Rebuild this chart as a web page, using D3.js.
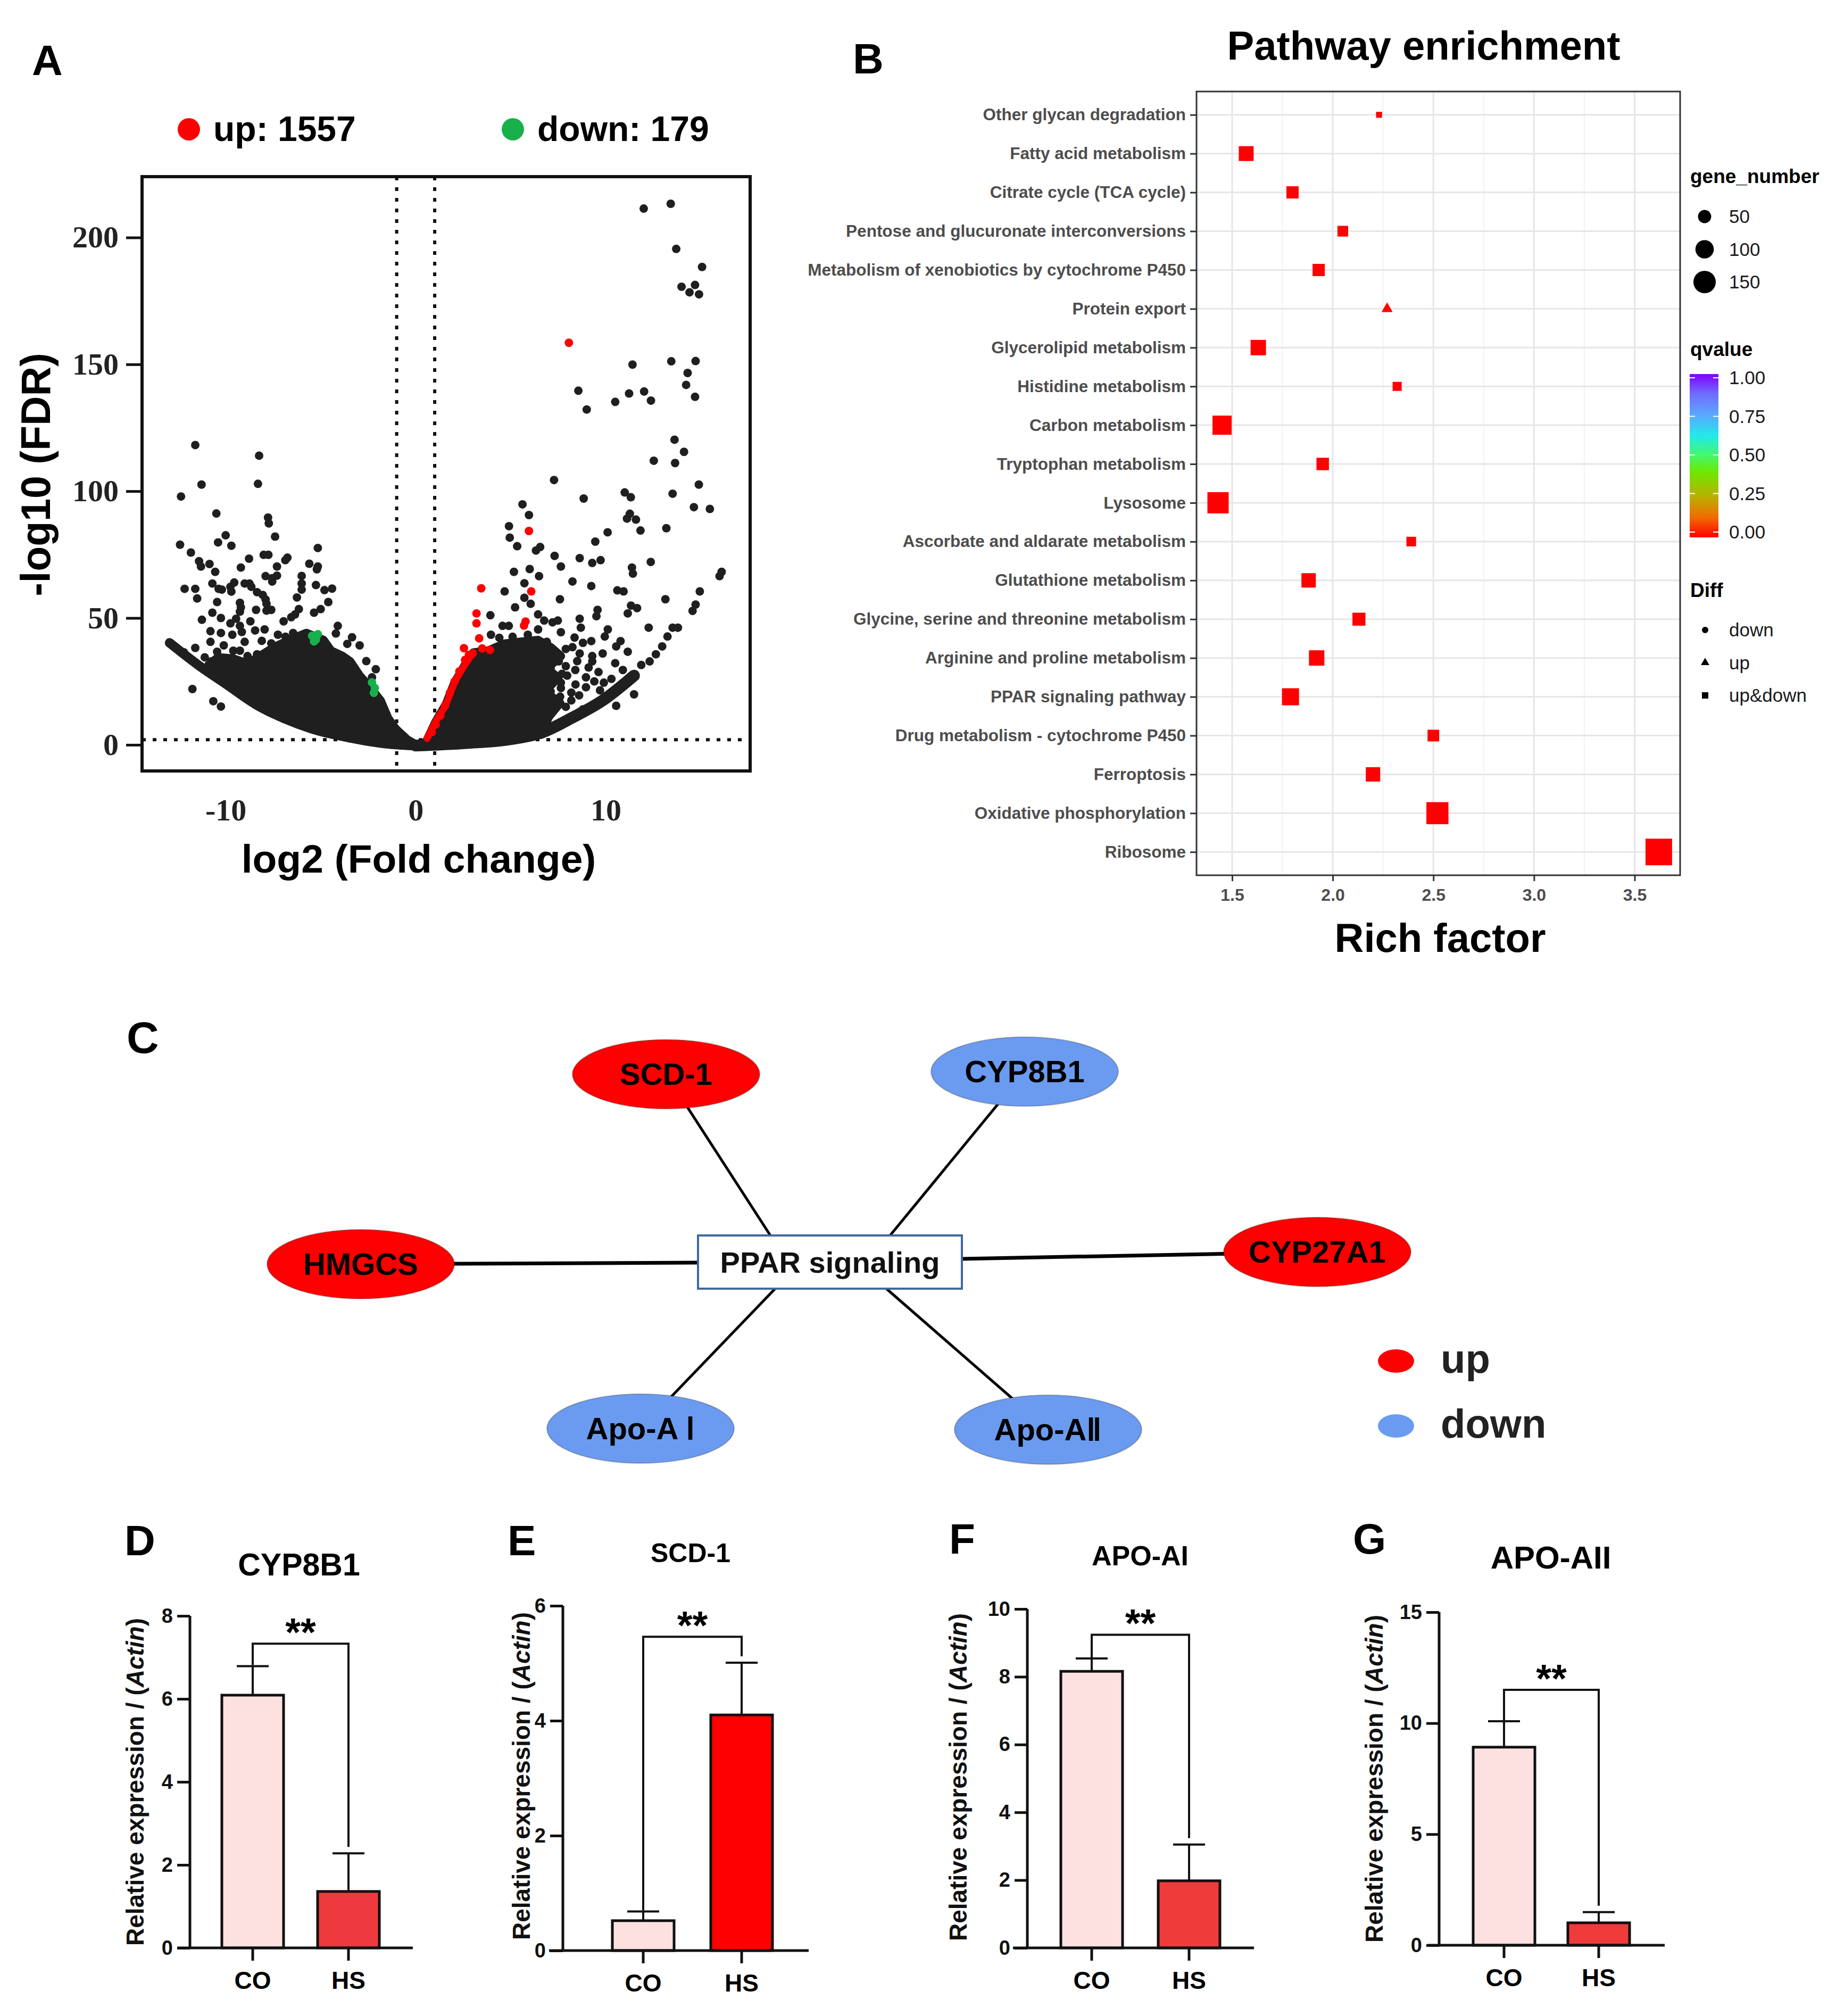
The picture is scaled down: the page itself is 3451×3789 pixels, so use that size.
<!DOCTYPE html>
<html>
<head>
<meta charset="utf-8">
<script src="https://cdn.jsdelivr.net/npm/d3@7"></script>
<style>
body { margin: 0; background: #fff; }
svg text { font-family: "Liberation Sans", Arial, Helvetica, sans-serif; }
</style>
</head>
<body>
<div id="fig"></div>
<script>
// ---------- A: volcano ----------
const upCount = 1557
const downCount = 179
const volXTicks = [-10, 0, 10]
const volYTicks = [0, 50, 100, 150, 200]
const fcCut = [-1, 1]
const fdrCut = 2
// single genes: [log2FC, -log10 FDR]
const volcanoNs = [
  [-11.6,118.2],[-8.24,114.0],[-11.27,102.6],[-8.3,102.9],[-12.35,97.9],[-10.49,91.2],[-7.77,89.6],[-7.73,87.3],
  [-7.4,82.1],[-10.0,82.6],[-10.4,79.8],[-12.4,78.9],[-9.7,78.5],[-5.15,77.6],[-11.83,75.8],[-8.77,73.4],[-8.0,74.9],
  [-7.75,74.9],[-6.75,73.8],[-6.86,72.8],[-11.4,72.4],[-11.3,70.3],[-10.85,71.3],[-10.55,68.2],[-9.2,69.9],[-7.3,70.3],
  [-5.6,71.4],[-5.15,70.3],[-5.2,69.2],[-7.9,66.5],[-7.55,65.7],[-7.3,66.7],[-7.55,64.4],[-6.0,66.6],[-10.7,63.6],
  [-10.37,61.5],[-10.2,61.2],[-12.16,61.5],[-11.6,61.5],[-9.75,62.3],[-9.55,64.0],[-9.7,60.4],[-9.0,63.6],[-8.75,63.6],
  [-8.65,62.3],[-6.0,63.6],[-5.25,63.0],[-4.8,61.0],[-4.4,61.6],[-8.35,60.2],[-8.05,59.1],[-7.9,57.3],[-7.85,55.6],
  [-6.0,61.2],[-6.25,58.1],[-11.5,57.7],[-10.45,56.3],[-9.25,56.0],[-9.2,54.2],[-9.25,52.5],[-8.4,53.2],[-7.85,52.9],
  [-7.6,53.2],[-6.15,53.5],[-6.35,51.4],[-4.6,56.3],[-5.0,53.5],[-5.35,52.1],[-10.7,52.1],[-10.25,50.0],[-11.25,49.3],
  [-9.75,47.9],[-9.45,49.7],[-9.25,46.9],[-8.7,48.7],[-8.45,45.1],[-7.95,45.5],[-6.95,48.7],[-6.55,50.3],[-4.1,46.9],
  [-10.8,44.8],[-10.8,40.6],[-10.25,44.1],[-9.65,43.4],[-9.15,44.5],[-7.25,43.4],[-6.85,42.6],[-6.45,44.1],[-3.35,42.4],
  [-2.95,39.2],[-10.45,36.7],[-9.6,37.1],[-7.9,36.1],[-11.75,22.0],[-9.0,19.3],[-10.65,17.2],[-10.25,15.1],[-2.3,26.6],
  [-10.75,32.9],[-10.45,31.2],[-10.05,32.2],[-9.55,31.5],[-9.25,30.1],[-8.85,29.1],[-9.75,28.0],[-10.45,27.3],[-9.45,27.3],
  [-8.95,26.2],[-8.45,25.5],[-8.05,24.5],[-7.65,23.8],[-7.95,28.0],[-7.45,27.3],[-7.25,31.5],[-7.95,32.9],[-8.85,35.0],
  [-8.35,35.7],[-9.25,37.1],[-11.1,34.5],[-11.6,38.2],[-12.2,36.5],[-10.1,39.2],[-9.0,40.6],[-8.1,41.0],[-7.6,40.0],
  [-6.2,40.5],[-4.2,43.9],[-3.6,39.8],[-2.6,33.0],[-2.1,29.8],
  [12.0,211.4],[13.42,213.3],[13.71,195.5],[15.07,188.4],[13.99,180.6],[14.7,181.3],[14.41,178.4],[14.91,177.6],
  [11.41,149.9],[13.45,151.2],[14.73,151.3],[14.31,146.6],[14.23,141.9],[14.7,137.2],[8.56,139.6],[9.0,132.2],[10.5,135.2],
  [11.23,138.5],[12.02,139.3],[12.38,135.7],[13.62,120.3],[14.12,115.5],[12.53,112.0],[13.65,111.1],[7.28,104.4],[14.9,102.6],
  [13.52,99.0],[8.84,97.1],[11.0,99.5],[11.32,97.6],[14.64,93.7],[15.48,93.0],[11.27,91.1],[11.12,89.2],[11.59,88.8],
  [5.62,94.8],[5.96,90.6],[4.91,86.2],[4.95,81.7],[10.1,83.8],[11.83,84.5],[13.19,85.4],[9.45,80.1],
  [5.34,78.3],[6.33,76.6],[6.55,78.0],[7.31,74.5],[8.63,73.6],[9.29,71.7],[9.73,72.8],[12.37,72.1],[7.64,70.3],[5.17,68.2],
  [6.0,69.3],[6.49,66.5],[11.38,69.9],[11.43,67.5],[16.1,68.2],[15.99,66.5],[8.25,64.4],[9.24,62.6],[5.72,63.7],[4.68,60.5],
  [10.61,60.9],[10.94,60.5],[14.95,60.5],[5.72,58.0],[6.05,55.6],[7.59,57.4],[13.14,57.4],[5.23,54.2],[11.33,54.9],[11.65,53.9],
  [11.16,51.8],[9.57,53.2],[9.51,50.7],[14.73,55.3],[14.57,52.8],[3.93,51.1],[6.44,51.4],[4.57,46.9],[4.9,46.9],[6.76,49.0],
  [7.2,48.3],[7.48,49.0],[8.63,49.7],[8.69,46.2],[12.26,46.2],[13.8,46.2],[13.52,46.2],[10.11,45.5],[9.95,42.7],[7.64,44.4],
  [6.44,45.5],[3.96,43.4],[13.25,42.7],[12.97,38.8],[12.64,35.7],[8.36,42.3],[8.8,40.2],[9.24,40.9],[10.78,40.9],[10.55,38.8],
  [8.25,38.5],[8.63,36.0],[9.84,36.0],[9.29,35.0],[11.16,36.7],[12.31,32.9],[11.87,31.5],[9.29,32.9],[10.5,32.2],[9.62,28.7],
  [8.96,26.6],[8.96,22.7],[11.49,19.9],[10.55,15.4],[8.19,20.6],[7.7,28.0],[7.64,24.5],[7.1,30.1],[7.53,32.9],[7.31,25.9],
  [7.97,27.3],[7.1,21.0],[7.64,22.4],[8.19,17.5],[7.31,17.5],[8.41,23.8],[7.0,33.5],[7.9,31.0],[8.4,29.5],[7.6,19.0],
  [8.6,19.5],[7.9,15.0],[8.8,14.0],[7.2,14.0],[9.4,25.0],[9.9,24.5],[10.2,20.0],[9.7,21.5],[9.1,30.5],[8.5,33.0],
  [10.9,29.5],[10.3,26.0],[4.4,42.2],[5.1,42.6],[5.9,43.4],[6.9,40.6],[7.9,37.8]
]
const volcanoUp = [
  [8.06,158.5],[5.96,84.3],[3.45,61.7],[6.08,60.5],[3.2,51.8],[3.2,47.9],[5.78,48.6],[5.7,47.0],[3.34,42.0],[2.54,38.1],
  [3.91,37.4],[3.5,38.0],[3.0,36.0],[2.8,35.5],[2.6,33.5],[2.3,29.0],[2.05,25.0],[1.8,20.5],[1.55,15.5],[1.3,11.5],[1.05,8.0],[0.85,5.0]
]
const volcanoDown = [
  [-5.45,43.0],[-5.25,41.5],[-5.15,43.6],[-5.35,40.8],[-2.15,22.4],[-2.3,24.6],[-2.2,20.5]
]
// solid parts of the cloud, outlines through the outermost point centres
const cloudLeft = [
  [-10.9,31.5],[-10.4,34.5],[-9.6,34.0],[-8.85,32.0],[-8.2,35.0],[-7.45,38.5],[-6.65,41.3],[-5.75,44.1],[-4.85,41.3],
  [-4.45,37.1],[-3.85,35.0],[-3.45,32.9],[-2.95,27.3],[-2.45,23.1],[-1.85,17.5],[-1.45,10.5],[-1.05,6.3],[-0.45,2.1],
  [0.05,0],[-1.45,0.3],[-3.45,2.6],[-5.45,6.2],[-6.95,10.3],[-8.45,16.5],[-9.45,22],[-10.45,27.8]
]
const cloudRight = [
  [0.5,0.4],[1.05,9.1],[1.6,16.1],[2.04,24.5],[2.59,31.5],[3.03,36.4],[3.8,37.1],[4.68,39.9],[5.45,40.6],[6.44,41.3],
  [7.1,38.5],[7.64,35.0],[6.9,30.0],[7.5,26.5],[6.8,21.0],[7.6,16.5],[7.0,11.0],[6.66,4.9],[4.9,2.1],[2.7,0.7]
]
const armLeft = [[-12.95,40.2],[-11.45,31.5],[-9.95,23.8],[-8.45,16.1],[-6.95,10.5],[-5.45,6.3],[-3.45,2.8],[-1.45,0.4],[0,-0.3]]
const armRight = [[0,-0.3],[2.7,0.7],[4.9,2.1],[6.66,4.9],[8.19,10.5],[9.84,17.5],[11.49,27.3]]
const upEdge = [[0.6,2.5],[1.05,9.1],[1.6,16.1],[2.04,24.5],[2.59,31.5],[3.03,36.4]]

// ---------- B: KEGG enrichment ----------
const pathways = ["Other glycan degradation","Fatty acid metabolism","Citrate cycle (TCA cycle)",
  "Pentose and glucuronate interconversions","Metabolism of xenobiotics by cytochrome P450","Protein export",
  "Glycerolipid metabolism","Histidine metabolism","Carbon metabolism","Tryptophan metabolism","Lysosome",
  "Ascorbate and aldarate metabolism","Glutathione metabolism","Glycine, serine and threonine metabolism",
  "Arginine and proline metabolism","PPAR signaling pathway","Drug metabolism - cytochrome P450","Ferroptosis",
  "Oxidative phosphorylation","Ribosome"]
const richFactor = [2.23,1.57,1.80,2.05,1.93,2.27,1.63,2.32,1.45,1.95,1.43,2.39,1.88,2.13,1.92,1.79,2.50,2.20,2.52,3.62]
const geneNumber = [10,78,52,39,52,25,84,27,132,54,163,31,73,59,84,104,47,73,176,257]
const qvalue = [0,0,0,0,0,0,0,0,0,0,0,0,0,0,0,0,0,0,0,0]
const diffType = ["up&down","up&down","up&down","up&down","up&down","up","up&down","up&down","up&down","up&down",
  "up&down","up&down","up&down","up&down","up&down","up&down","up&down","up&down","up&down","up&down"]
const richTicks = [1.5, 2.0, 2.5, 3.0, 3.5]
const richMinor = [1.75, 2.25, 2.75, 3.25]
const sizeLegend = [50, 100, 150]
const qTicks = [1, 0.75, 0.5, 0.25, 0]
const diffLevels = ["down", "up", "up&down"]

// ---------- C: network ----------
const hubLabel = "PPAR signaling"
const netGenes = ["SCD-1", "CYP8B1", "HMGCS", "CYP27A1", "Apo-A Ⅰ", "Apo-AⅡ"]
const netReg = ["up", "down", "up", "up", "down", "down"]
const regLevels = ["up", "down"]

// ---------- D-G: qPCR ----------
const qpcrGenes = ["CYP8B1", "SCD-1", "APO-AI", "APO-AII"]
const groups = ["CO", "HS"]
const coMean = [6.09, 0.52, 8.16, 8.92]
const coSd = [0.70, 0.16, 0.38, 1.17]
const hsMean = [1.36, 4.10, 1.98, 1.01]
const hsSd = [0.92, 0.91, 1.07, 0.48]
const yMaxes = [8, 6, 10, 15]
const yStep = [2, 2, 2, 5]
const sigMark = ["**", "**", "**", "**"]
const bracketAt = [7.33, 5.46, 9.24, 11.5]

const RED = "#ff0000"
let svg

document.addEventListener("DOMContentLoaded", setup)

function setup(){
    svg = d3.select("#fig").append("svg")
        .attr("width", 3451)
        .attr("height", 3789)
        .style("background", "#fff")
    drawVolcano()
    drawEnrichment()
    drawNetwork()
    drawBars()
}

function letter(txt, x, y, size){
    svg.append("text").attr("x", x).attr("y", y)
        .attr("font-size", size || 80).attr("font-weight", "bold").text(txt)
}

function drawVolcano(){
    const box = {left: 267, right: 1410, top: 332, bottom: 1449}
    const x = d3.scaleLinear().domain([-14.4, 17.6]).range([box.left, box.right])
    const y = d3.scaleLinear().domain([-10.3, 224]).range([box.bottom, box.top])
    const g = svg.append("g")

    letter("A", 60, 141)
    // legend
    const leg = [{c: RED, t: "up: " + upCount, x: 355}, {c: "#19b04b", t: "down: " + downCount, x: 964}]
    leg.forEach(l => {
        g.append("circle").attr("cx", l.x).attr("cy", 243).attr("r", 21).attr("fill", l.c)
        g.append("text").attr("x", l.x + 46).attr("y", 265).attr("font-size", 66)
            .attr("font-weight", "bold").text(l.t)
    })

    g.append("clipPath").attr("id", "volClip").append("rect")
        .attr("x", box.left).attr("y", box.top)
        .attr("width", box.right - box.left).attr("height", box.bottom - box.top)
    const plot = g.append("g").attr("clip-path", "url(#volClip)")

    // cut-off lines
    fcCut.forEach(v => {
        plot.append("line").attr("x1", x(v)).attr("x2", x(v)).attr("y1", box.top).attr("y2", box.bottom)
            .attr("stroke", "#111").attr("stroke-width", 6).attr("stroke-dasharray", "7,13")
    })
    plot.append("line").attr("x1", box.left).attr("x2", box.right).attr("y1", y(fdrCut)).attr("y2", y(fdrCut))
        .attr("stroke", "#111").attr("stroke-width", 6).attr("stroke-dasharray", "7,13")

    const dark = "#1f1f1f"
    const line = d3.line().x(d => x(d[0])).y(d => y(d[1]))
    plot.selectAll("path.cloud").data([cloudLeft, cloudRight]).join("path")
        .attr("class", "cloud")
        .attr("d", d => line(d) + "Z")
        .attr("fill", dark).attr("stroke", dark)
        .attr("stroke-width", 16).attr("stroke-linejoin", "round")
    const curve = d3.line().curve(d3.curveMonotoneX).x(d => x(d[0])).y(d => y(d[1]))
    plot.selectAll("path.arm").data([armLeft, armRight]).join("path")
        .attr("class", "arm")
        .attr("d", curve)
        .attr("fill", "none").attr("stroke", dark)
        .attr("stroke-width", (d, i) => i ? 22 : 18).attr("stroke-linecap", "round")

    plot.selectAll("circle.ns").data(volcanoNs).join("circle")
        .attr("class", "ns")
        .attr("cx", d => x(d[0])).attr("cy", d => y(d[1])).attr("r", 8).attr("fill", dark)

    plot.append("path").attr("d", curve(upEdge))
        .attr("fill", "none").attr("stroke", RED).attr("stroke-width", 13).attr("stroke-linecap", "round")
    plot.selectAll("circle.up").data(volcanoUp).join("circle")
        .attr("class", "up")
        .attr("cx", d => x(d[0])).attr("cy", d => y(d[1])).attr("r", 8).attr("fill", RED)
    plot.selectAll("circle.down").data(volcanoDown).join("circle")
        .attr("class", "down")
        .attr("cx", d => x(d[0])).attr("cy", d => y(d[1])).attr("r", 8).attr("fill", "#19b04b")

    g.append("rect").attr("x", box.left).attr("y", box.top)
        .attr("width", box.right - box.left).attr("height", box.bottom - box.top)
        .attr("fill", "none").attr("stroke", "#111").attr("stroke-width", 6)

    // axes
    const serif = "'Liberation Serif','Times New Roman',serif"
    const yAx = g.append("g").attr("transform", "translate(" + box.left + ",0)")
        .call(d3.axisLeft(y).tickValues(volYTicks).tickSize(30).tickPadding(14))
    yAx.select(".domain").remove()
    yAx.selectAll("line").attr("stroke", "#111").attr("stroke-width", 5)
    yAx.selectAll("text").attr("font-size", 58).attr("font-weight", "bold")
        .style("font-family", serif).attr("fill", "#222")

    const xAx = g.append("g").attr("transform", "translate(0," + box.bottom + ")")
        .call(d3.axisBottom(x).tickValues(volXTicks).tickFormat(d => String(d)).tickSize(0).tickPadding(52))
    xAx.select(".domain").remove()
    xAx.selectAll("text").attr("font-size", 58).attr("font-weight", "bold")
        .style("font-family", serif).attr("fill", "#222")

    g.append("text").attr("transform", "translate(94,892) rotate(-90)")
        .attr("text-anchor", "middle").attr("font-size", 77).attr("font-weight", "bold")
        .text("-log10 (FDR)")
    g.append("text").attr("x", 787).attr("y", 1640)
        .attr("text-anchor", "middle").attr("font-size", 75).attr("font-weight", "bold")
        .text("log2 (Fold change)")
}

function drawEnrichment(){
    const box = {left: 2249, right: 3158, top: 172, bottom: 1645}
    const x = d3.scaleLinear().domain([1.323, 3.726]).range([box.left, box.right])
    const y = d3.scalePoint().domain(pathways).range([box.top, box.bottom]).padding(0.6)
    const area = d3.scaleLinear().domain([0, 300]).range([30, 30 + 9.6 * 300])
    const qColor = d3.scaleLinear()
        .domain([0, 0.12, 0.25, 0.4, 0.5, 0.62, 0.75, 0.88, 1])
        .range(["#ff0000", "#f26a00", "#b9b000", "#6ee800", "#44f86a", "#22eaea", "#5aa8ff", "#6f6cff", "#8000ff"])
    const g = svg.append("g")
    const grey = "#4d4d4d"

    letter("B", 1603, 138)
    g.append("text").attr("x", 2676).attr("y", 112).attr("text-anchor", "middle")
        .attr("font-size", 76).attr("font-weight", "bold").text("Pathway enrichment")

    // grid
    g.selectAll("line.minor").data(richMinor).join("line").attr("class", "minor")
        .attr("x1", d => x(d)).attr("x2", d => x(d)).attr("y1", box.top).attr("y2", box.bottom)
        .attr("stroke", "#f2f2f2").attr("stroke-width", 2)
    g.selectAll("line.major").data(richTicks).join("line").attr("class", "major")
        .attr("x1", d => x(d)).attr("x2", d => x(d)).attr("y1", box.top).attr("y2", box.bottom)
        .attr("stroke", "#e6e6e6").attr("stroke-width", 3)
    g.selectAll("line.hgrid").data(pathways).join("line").attr("class", "hgrid")
        .attr("x1", box.left).attr("x2", box.right).attr("y1", d => y(d)).attr("y2", d => y(d))
        .attr("stroke", "#e6e6e6").attr("stroke-width", 3)

    // points
    const pts = pathways.map((p, i) => ({p: p, r: richFactor[i], n: geneNumber[i], q: qvalue[i], t: diffType[i]}))
    pts.forEach(d => {
        const cx = x(d.r), cy = y(d.p), s = Math.sqrt(area(d.n))
        if (d.t === "up") {
            g.append("path").attr("transform", "translate(" + cx + "," + cy + ")")
                .attr("d", d3.symbol(d3.symbolTriangle, s * s * 0.7)()).attr("fill", qColor(d.q))
        } else if (d.t === "down") {
            g.append("circle").attr("cx", cx).attr("cy", cy).attr("r", s / 2).attr("fill", qColor(d.q))
        } else {
            g.append("rect").attr("x", cx - s / 2).attr("y", cy - s / 2).attr("width", s).attr("height", s)
                .attr("fill", qColor(d.q))
        }
    })

    g.append("rect").attr("x", box.left).attr("y", box.top)
        .attr("width", box.right - box.left).attr("height", box.bottom - box.top)
        .attr("fill", "none").attr("stroke", "#333").attr("stroke-width", 3)

    // axes
    const yAx = g.append("g").attr("transform", "translate(" + box.left + ",0)")
        .call(d3.axisLeft(y).tickSize(12).tickPadding(8))
    yAx.select(".domain").remove()
    yAx.selectAll("line").attr("stroke", "#333").attr("stroke-width", 3)
    yAx.selectAll("text").attr("font-size", 31.5).attr("font-weight", "bold").attr("fill", grey)

    const xAx = g.append("g").attr("transform", "translate(0," + box.bottom + ")")
        .call(d3.axisBottom(x).tickValues(richTicks).tickFormat(d3.format(".1f")).tickSize(11).tickPadding(14))
    xAx.select(".domain").remove()
    xAx.selectAll("line").attr("stroke", "#333").attr("stroke-width", 3)
    xAx.selectAll("text").attr("font-size", 32).attr("font-weight", "bold").attr("fill", grey)

    g.append("text").attr("x", 2707).attr("y", 1789).attr("text-anchor", "middle")
        .attr("font-size", 76).attr("font-weight", "bold").text("Rich factor")

    // legends
    const lx = 3177
    g.append("text").attr("x", lx).attr("y", 344).attr("font-size", 37).attr("font-weight", "bold").text("gene_number")
    const legY = d3.scalePoint().domain(sizeLegend).range([407, 530])
    sizeLegend.forEach(n => {
        g.append("circle").attr("cx", 3204).attr("cy", legY(n)).attr("r", 1.1 * Math.sqrt(area(n)) / 2).attr("fill", "#000")
        g.append("text").attr("x", 3250).attr("y", legY(n) + 12).attr("font-size", 35).attr("fill", "#1a1a1a").text(n)
    })

    g.append("text").attr("x", lx).attr("y", 669).attr("font-size", 37).attr("font-weight", "bold").text("qvalue")
    const grad = svg.append("defs").append("linearGradient").attr("id", "qgrad")
        .attr("x1", 0).attr("y1", 1).attr("x2", 0).attr("y2", 0)
    qColor.domain().forEach(v => grad.append("stop").attr("offset", v).attr("stop-color", qColor(v)))
    const qy = d3.scaleLinear().domain([0, 1]).range([1000, 710])
    g.append("rect").attr("x", 3176).attr("y", 703).attr("width", 54).attr("height", 307).attr("fill", "url(#qgrad)")
    qTicks.forEach(v => {
        g.append("line").attr("x1", 3176).attr("x2", 3186).attr("y1", qy(v)).attr("y2", qy(v)).attr("stroke", "#fff").attr("stroke-width", 2)
        g.append("line").attr("x1", 3220).attr("x2", 3230).attr("y1", qy(v)).attr("y2", qy(v)).attr("stroke", "#fff").attr("stroke-width", 2)
        g.append("text").attr("x", 3250).attr("y", qy(v) + 12).attr("font-size", 35).attr("fill", "#1a1a1a")
            .text(d3.format(".2f")(v))
    })

    g.append("text").attr("x", lx).attr("y", 1122).attr("font-size", 37).attr("font-weight", "bold").text("Diff")
    const dy = d3.scalePoint().domain(diffLevels).range([1184, 1307])
    diffLevels.forEach(t => {
        const cy = dy(t)
        if (t === "down") g.append("circle").attr("cx", 3205).attr("cy", cy).attr("r", 6).attr("fill", "#000")
        else if (t === "up") g.append("path").attr("transform", "translate(3205," + cy + ")")
            .attr("d", d3.symbol(d3.symbolTriangle, 110)()).attr("fill", "#000")
        else g.append("rect").attr("x", 3199).attr("y", cy - 6).attr("width", 12).attr("height", 12).attr("fill", "#000")
        g.append("text").attr("x", 3250).attr("y", cy + 12).attr("font-size", 35).attr("fill", "#1a1a1a").text(t)
    })
}

function drawNetwork(){
    const g = svg.append("g")
    letter("C", 238, 1979, 84)
    const regColor = d3.scaleOrdinal().domain(regLevels).range([RED, "#6b9bf0"])
    // layout of the drawing (not data)
    const pos = {"SCD-1": [1252, 2019], "CYP8B1": [1926, 2014], "HMGCS": [678, 2376],
        "CYP27A1": [2476, 2353], "Apo-A Ⅰ": [1204, 2685], "Apo-AⅡ": [1970, 2687]}
    const anchor = {"SCD-1": [1448, 2322], "CYP8B1": [1673, 2322], "HMGCS": [1312, 2373],
        "CYP27A1": [1808, 2366], "Apo-A Ⅰ": [1457, 2422], "Apo-AⅡ": [1666, 2422]}
    const nodes = netGenes.map((n, i) => ({name: n, reg: netReg[i]}))

    g.selectAll("line.edge").data(nodes).join("line").attr("class", "edge")
        .attr("x1", d => anchor[d.name][0]).attr("y1", d => anchor[d.name][1])
        .attr("x2", d => pos[d.name][0]).attr("y2", d => pos[d.name][1])
        .attr("stroke", "#000")
        .attr("stroke-width", d => (d.name === "HMGCS" || d.name === "CYP27A1") ? 7 : 5)

    g.selectAll("ellipse.node").data(nodes).join("ellipse").attr("class", "node")
        .attr("cx", d => pos[d.name][0]).attr("cy", d => pos[d.name][1])
        .attr("rx", 176).attr("ry", 65)
        .attr("fill", d => regColor(d.reg)).attr("stroke", "rgba(0,0,0,0.25)").attr("stroke-width", 2)
    g.selectAll("text.node").data(nodes).join("text").attr("class", "node")
        .attr("x", d => pos[d.name][0]).attr("y", d => pos[d.name][1] + 20)
        .attr("text-anchor", "middle").attr("font-size", 58).attr("font-weight", "bold")
        .text(d => d.name)

    g.append("rect").attr("x", 1312).attr("y", 2322).attr("width", 496).attr("height", 100)
        .attr("fill", "#fff").attr("stroke", "#41699e").attr("stroke-width", 4)
    g.append("text").attr("x", 1560).attr("y", 2392).attr("text-anchor", "middle")
        .attr("font-size", 56).attr("font-weight", "bold").attr("fill", "#111").text(hubLabel)

    const ly = d3.scalePoint().domain(regLevels).range([2558, 2680])
    regLevels.forEach(r => {
        g.append("ellipse").attr("cx", 2624).attr("cy", ly(r)).attr("rx", 34).attr("ry", 22).attr("fill", regColor(r))
        g.append("text").attr("x", 2708).attr("y", ly(r) + 22).attr("font-size", 76).attr("font-weight", "bold")
            .attr("fill", "#222").text(r)
    })
}

function drawBars(){
    // panel placement (layout only)
    const lay = [
        {L: "D", lx: 234, ly: 2923, ax: 357, y0: 3661, y1: 3037, xl: 333, xr: 776, co: 475, hs: 655, tx: 562, ty: 2961, ts: 59, ytx: 256, yty: 3349},
        {L: "E", lx: 954, ly: 2923, ax: 1058, y0: 3666, y1: 3018, xl: 1032, xr: 1520, co: 1209, hs: 1394, tx: 1298, ty: 2936, ts: 50, ytx: 982, yty: 3338},
        {L: "F", lx: 1784, ly: 2920, ax: 1931, y0: 3661, y1: 3024, xl: 1904, xr: 2357, co: 2052, hs: 2235, tx: 2143, ty: 2942, ts: 52, ytx: 1803, yty: 3340},
        {L: "G", lx: 2543, ly: 2920, ax: 2705, y0: 3656, y1: 3030, xl: 2683, xr: 3129, co: 2827, hs: 3005, tx: 2915, ty: 2948, ts: 60, ytx: 2585, yty: 3343}
    ]
    const hsFill = ["#ee3a3e", "#ff0000", "#f03b3b", "#f03b3b"]
    const coFill = "#fde1e1"
    const barW = 116

    qpcrGenes.forEach((gene, i) => {
        const p = lay[i]
        const g = svg.append("g")
        const y = d3.scaleLinear().domain([0, yMaxes[i]]).range([p.y0, p.y1])
        const x = d3.scalePoint().domain(groups).range([p.co, p.hs])
        const bars = [{grp: "CO", m: coMean[i], sd: coSd[i], fill: coFill},
                      {grp: "HS", m: hsMean[i], sd: hsSd[i], fill: hsFill[i]}]

        letter(p.L, p.lx, p.ly)
        g.append("text").attr("x", p.tx).attr("y", p.ty).attr("text-anchor", "middle")
            .attr("font-size", p.ts).attr("font-weight", "bold").text(gene)

        // error bars (upper only)
        bars.forEach(b => {
            g.append("line").attr("x1", x(b.grp)).attr("x2", x(b.grp)).attr("y1", y(b.m)).attr("y2", y(b.m + b.sd))
                .attr("stroke", "#111").attr("stroke-width", 4)
            g.append("line").attr("x1", x(b.grp) - 30).attr("x2", x(b.grp) + 30).attr("y1", y(b.m + b.sd)).attr("y2", y(b.m + b.sd))
                .attr("stroke", "#111").attr("stroke-width", 4)
        })
        g.selectAll("rect.bar").data(bars).join("rect").attr("class", "bar")
            .attr("x", d => x(d.grp) - barW / 2).attr("y", d => y(d.m))
            .attr("width", barW).attr("height", d => y(0) - y(d.m))
            .attr("fill", d => d.fill).attr("stroke", "#111").attr("stroke-width", 5)

        // axes
        const yAx = g.append("g").attr("transform", "translate(" + p.ax + ",0)")
            .call(d3.axisLeft(y).tickValues(d3.range(0, yMaxes[i] + 0.001, yStep[i]))
                .tickFormat(d3.format("d")).tickSize(24).tickPadding(8))
        yAx.select(".domain").attr("stroke", "#111").attr("stroke-width", 5).attr("d", "M0," + p.y0 + "V" + p.y1)
        yAx.selectAll("line").attr("stroke", "#111").attr("stroke-width", 5)
        yAx.selectAll("text").attr("font-size", 38).attr("font-weight", "bold").attr("fill", "#111")

        g.append("line").attr("x1", p.xl).attr("x2", p.xr).attr("y1", p.y0).attr("y2", p.y0)
            .attr("stroke", "#111").attr("stroke-width", 5)
        groups.forEach(gr => {
            g.append("line").attr("x1", x(gr)).attr("x2", x(gr)).attr("y1", p.y0).attr("y2", p.y0 + 24)
                .attr("stroke", "#111").attr("stroke-width", 5)
            g.append("text").attr("x", x(gr)).attr("y", p.y0 + 77).attr("text-anchor", "middle")
                .attr("font-size", 46).attr("font-weight", "bold").text(gr)
        })

        // significance bracket
        const by = y(bracketAt[i])
        const legL = y(bars[0].m + bars[0].sd) - 2
        const legR = y(bars[1].m + bars[1].sd) - 12
        g.append("path").attr("d", "M" + x("CO") + "," + legL + "V" + by + "H" + x("HS") + "V" + legR)
            .attr("fill", "none").attr("stroke", "#111").attr("stroke-width", 4)
        g.append("text").attr("x", (x("CO") + x("HS")) / 2).attr("y", by + 4).attr("text-anchor", "middle")
            .attr("font-size", 74).attr("font-weight", "bold").text(sigMark[i])

        const t = g.append("text").attr("transform", "translate(" + (p.ytx + 14) + "," + p.yty + ") rotate(-90)")
            .attr("text-anchor", "middle").attr("font-size", 46).attr("font-weight", "bold").attr("fill", "#111")
        t.append("tspan").text("Relative expression / (")
        t.append("tspan").attr("font-style", "italic").text("Actin")
        t.append("tspan").text(")")
    })
}
</script>
</body>
</html>
